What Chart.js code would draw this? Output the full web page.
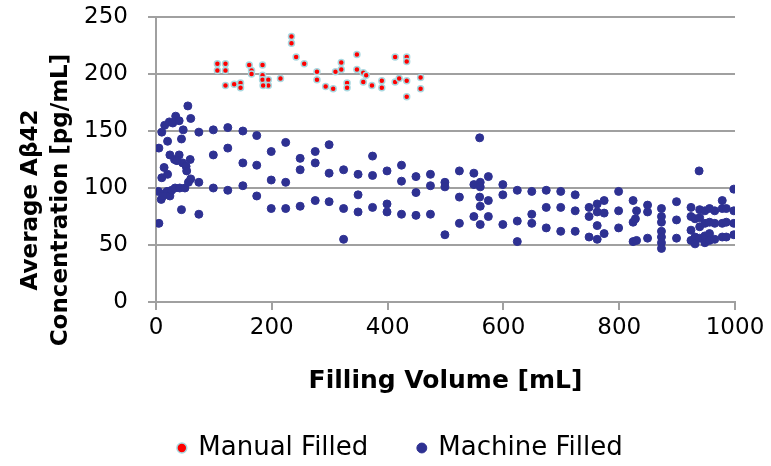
<!DOCTYPE html>
<html lang="en">
<head>
   <meta charset="UTF-8">
   <title>Average Aβ42 vs Filling Volume</title>
   <script src="https://cdn.jsdelivr.net/npm/chart.js@4/dist/chart.umd.min.js"></script>
   <style>
       body { margin: 0; background: #fff; }
       canvas { display: block; }
   </style>
</head>
<body>
   <canvas id="chart" width="771" height="466"></canvas>

   <script>
       // values: [filling volume mL, concentration pg/mL]
       const seriesNames = ['Manual Filled', 'Machine Filled'];
       const xTicks = [0, 200, 400, 600, 800, 1000];
       const yTicks = [0, 50, 100, 150, 200, 250];

       const manualFilled = [
           [106, 209], [120, 209], [106, 203], [120, 203], [120, 190], [135, 191],
           [146, 192], [146, 188], [161, 208], [165, 203], [165, 200], [184, 208],
           [184, 199], [184, 195], [194, 195], [194, 190], [185, 190], [215, 196],
           [234, 233], [234, 227], [242, 215], [256, 209], [278, 202], [278, 195],
           [293, 189], [306, 187], [310, 202], [320, 210], [320, 204], [330, 192],
           [330, 188], [347, 217], [347, 204], [358, 201], [363, 199], [358, 193],
           [373, 190], [390, 194], [390, 188], [413, 215], [413, 193], [420, 196],
           [433, 215], [433, 211], [433, 194], [433, 180], [457, 197], [457, 187]
       ];

       const machineFilled = [
           // 0-75 mL
           [5, 69], [4, 97], [5, 135], [9, 90], [10, 109], [10, 149], [14, 95], [14, 118],
           [15, 155], [19, 97], [20, 112], [20, 141], [23, 158], [24, 93], [24, 129],
           [27, 98], [29, 157], [32, 125], [33, 100], [34, 163], [40, 129], [40, 159],
           [41, 100], [44, 81], [44, 143], [46, 122], [47, 151], [50, 100], [52, 119],
           [53, 115], [55, 172], [56, 105], [59, 125], [60, 108], [60, 161], [12, 93],
           [36, 124], [74, 77], [74, 105], [74, 149],
           // 100-500 mL
           [99, 151], [99, 129], [99, 100], [124, 153], [124, 135], [124, 98],
           [150, 150], [150, 122], [150, 102], [174, 146], [174, 120], [174, 93],
           [199, 132], [199, 107], [199, 82], [224, 140], [224, 105], [224, 82],
           [249, 126], [249, 116], [249, 84], [275, 132], [275, 122], [275, 89],
           [299, 138], [299, 113], [299, 88], [324, 116], [324, 82], [324, 55],
           [349, 112], [349, 94], [349, 79], [374, 128], [374, 111], [374, 83],
           [399, 115], [399, 86], [399, 79], [424, 120], [424, 106], [424, 77],
           [449, 110], [449, 96], [449, 76], [474, 112], [474, 102], [474, 77],
           [499, 105], [499, 101], [499, 59],
           // 500-900 mL
           [524, 115], [524, 92], [524, 69], [549, 113], [549, 103], [549, 75],
           [559, 144], [560, 105], [560, 101], [559, 92], [560, 84], [560, 68],
           [574, 110], [574, 89], [574, 75], [599, 103], [599, 94], [599, 68],
           [624, 98], [624, 71], [624, 53], [649, 97], [649, 77], [649, 69],
           [674, 98], [674, 83], [674, 65], [699, 97], [699, 83], [699, 62],
           [724, 94], [724, 80], [724, 62], [748, 83], [748, 75], [748, 57],
           [762, 86], [762, 79], [762, 67], [762, 55], [774, 89], [774, 78], [774, 60],
           [799, 97], [799, 80], [799, 65], [824, 89], [830, 80], [824, 70], [828, 73],
           [824, 53], [830, 54], [849, 85], [849, 79], [849, 56],
           [873, 82], [873, 75], [873, 70], [873, 62], [873, 57], [873, 52], [873, 47],
           [899, 88], [899, 72], [899, 56],
           // 900-1000 mL
           [924, 83], [924, 75], [924, 63], [924, 54], [931, 73], [931, 57], [931, 51],
           [938, 115], [939, 81], [939, 74], [939, 66], [939, 56], [948, 80], [948, 69],
           [948, 58], [948, 52], [956, 82], [956, 70], [956, 60], [956, 54],
           [965, 80], [965, 69], [965, 55], [978, 89], [978, 82], [978, 69], [978, 57],
           [985, 82], [985, 70], [985, 57], [998, 99], [998, 80], [998, 69], [998, 59]
       ];

       const gray = '#a0a0a0';
       const fontFamily = '"DejaVu Sans", Verdana, sans-serif';
       const tickFont = { family: fontFamily, size: 23 };

       // two-line rotated y title, centred like the original
       const yTitle = {
           id: 'yTitle',
           afterDraw(c) {
               const ctx = c.ctx;
               const lines = [['Average Aβ42', 31], ['Concentration [pg/mL]', 61]];
               lines.forEach(([text, x]) => {
                   ctx.save();
                   ctx.font = 'bold 23px ' + fontFamily;
                   ctx.fillStyle = '#000';
                   ctx.textAlign = 'center';
                   ctx.textBaseline = 'middle';
                   ctx.translate(x, 200);
                   ctx.rotate(-Math.PI / 2);
                   ctx.fillText(text, 0, 0);
                   ctx.restore();
               });
           }
       };

       const toPoints = arr => arr.map(([x, y]) => ({ x, y }));

       new Chart(document.getElementById('chart'), {
           type: 'scatter',
           data: {
               datasets: [{
                   label: seriesNames[0],
                   data: toPoints(manualFilled),
                   backgroundColor: '#ff0000',
                   borderColor: '#a8d8e0',
                   borderWidth: 1.5,
                   pointRadius: 3
               }, {
                   label: seriesNames[1],
                   data: toPoints(machineFilled),
                   backgroundColor: '#2e3192',
                   borderColor: '#2e3192',
                   borderWidth: 1,
                   pointRadius: 4
               }]
           },
           options: {
               responsive: false,
               animation: false,
               layout: { padding: { left: 66, right: 36, top: 17, bottom: -5 } },
               plugins: {
                   tooltip: { enabled: false },
                   legend: {
                       position: 'bottom',
                       labels: {
                           usePointStyle: true,
                           pointStyle: 'circle',
                           boxWidth: 7,
                           boxHeight: 7,
                           padding: 50,
                           color: '#000',
                           font: { family: fontFamily, size: 26 }
                       }
                   }
               },
               scales: {
                   x: {
                       type: 'linear',
                       min: xTicks[0],
                       max: xTicks[xTicks.length - 1],
                       afterBuildTicks: s => { s.ticks = xTicks.map(v => ({ value: v })); },
                       afterFit: s => { s.height = 83; s.paddingLeft = 0; s.paddingRight = 0; },
                       ticks: { color: '#000', font: tickFont, padding: 4, callback: v => String(v) },
                       grid: { drawOnChartArea: false, tickLength: 8, color: gray, lineWidth: 2 },
                       border: { color: gray, width: 2 },
                       title: {
                           display: true,
                           text: 'Filling Volume [mL]',
                           color: '#000',
                           font: { family: fontFamily, size: 25, weight: 'bold' },
                           padding: { top: 0, bottom: -11 }
                       }
                   },
                   y: {
                       min: yTicks[0],
                       max: yTicks[yTicks.length - 1],
                       afterBuildTicks: s => { s.ticks = yTicks.map(v => ({ value: v })); },
                       afterFit: s => { s.width = 90; s.paddingTop = 0; s.paddingBottom = 0; },
                       ticks: { color: '#000', font: tickFont, padding: 20, callback: v => String(v) },
                       grid: { tickLength: 8, color: gray, lineWidth: 2 },
                       border: { color: gray, width: 2 }
                   }
               }
           },
           plugins: [yTitle]
       });
   </script>
</body>
</html>
